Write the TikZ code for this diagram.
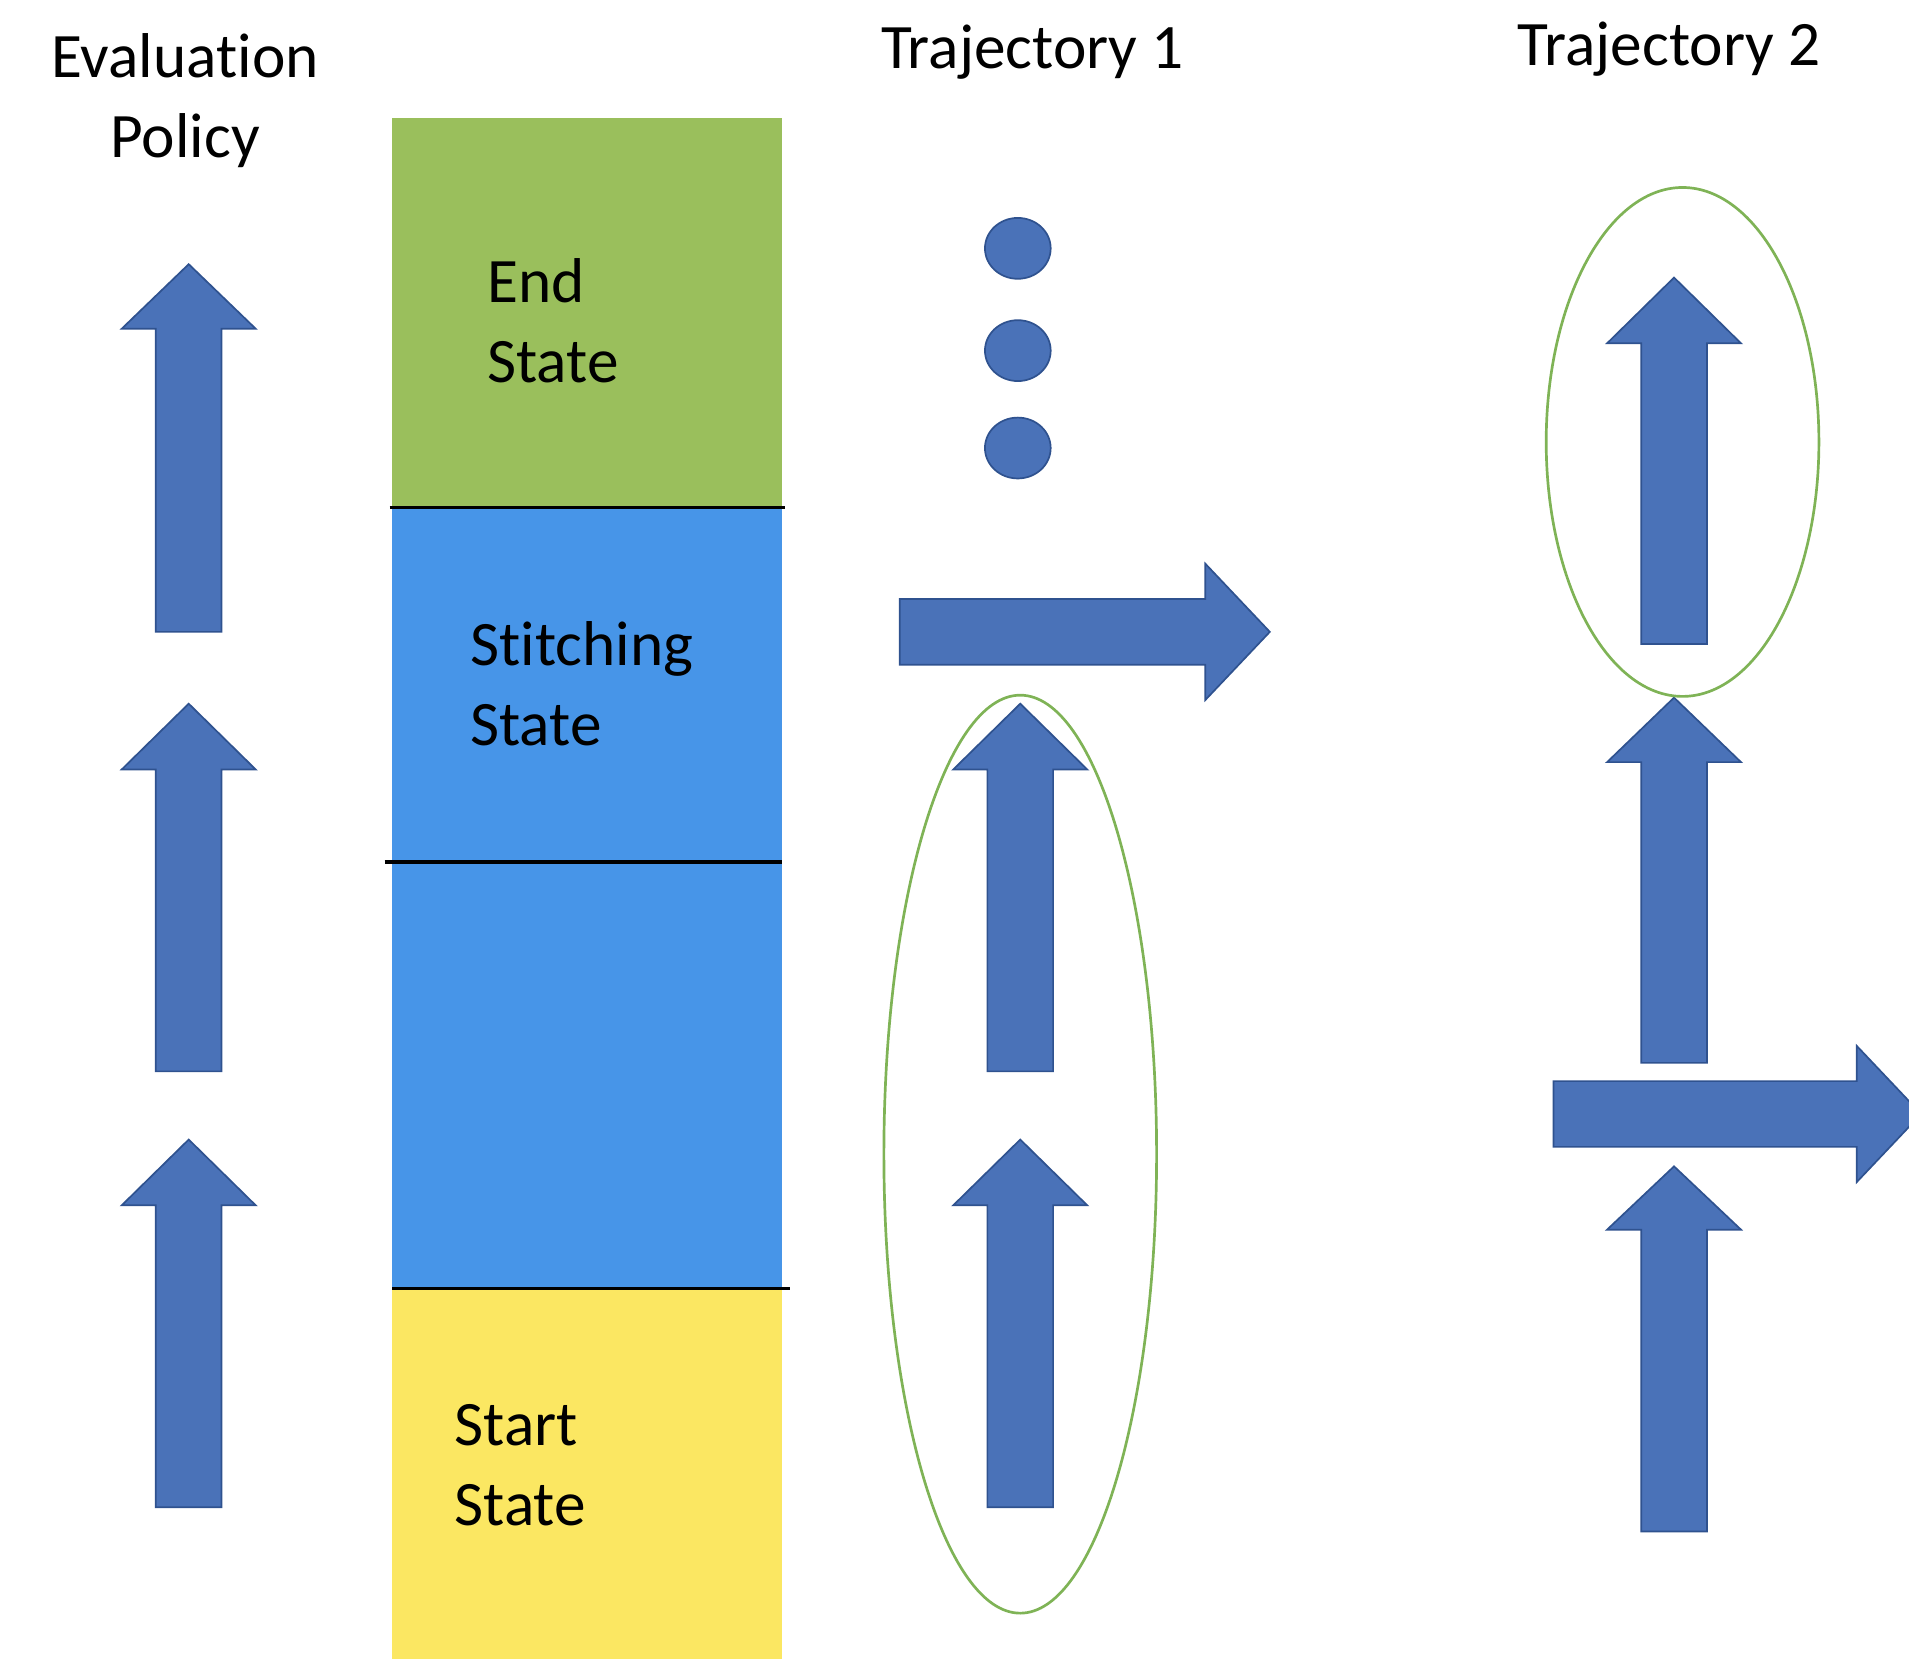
\documentclass[tikz,border=0pt]{standalone}
\usepackage{fontspec}
\setmainfont{Carlito}[Ligatures=NoCommon]
\definecolor{arrfill}{HTML}{4A72B8}
\definecolor{arrline}{HTML}{2F528F}
\definecolor{endgreen}{HTML}{9ABF5C}
\definecolor{stitchblue}{HTML}{4795E8}
\definecolor{startyellow}{HTML}{FBE762}
\definecolor{ringgreen}{HTML}{7FB356}
\tikzset{
  blockarrow/.style={fill=arrfill, draw=arrline, line width=0.7pt, line join=miter},
  ring/.style={draw=ringgreen, line width=1.1pt},
  dotstyle/.style={fill=arrfill, draw=arrline, line width=0.7pt},
  divider/.style={draw=black, line width=1.3pt},
  label/.style={font=\fontsize{26}{33}\selectfont, inner sep=0pt},
}
\newcommand{\uparr}[4]{%
  \draw[blockarrow] ({#1-27},#4) -- ({#1-27},#3) -- ({#1-55},#3) -- (#1,#2) -- ({#1+55},#3) -- ({#1+27},#3) -- ({#1+27},#4) -- cycle;}
\newcommand{\rightarr}[4]{% x0, x1(head base), xtip, ycenter
  \draw[blockarrow] (#1,{#4-27}) -- (#2,{#4-27}) -- (#2,{#4-56}) -- (#3,#4) -- (#2,{#4+56}) -- (#2,{#4+27}) -- (#1,{#4+27}) -- cycle;}
\begin{document}
\begin{tikzpicture}[x=0.5pt,y=-0.5pt]
\useasboundingbox (0,0) rectangle (1568,1363);
\clip (0,0) rectangle (1568,1363);
% column
\fill[endgreen] (322,97) rectangle (642,417);
\fill[stitchblue] (322,417) rectangle (642,1058);
\fill[startyellow] (322,1058) rectangle (642,1363);
\coordinate (l1a) at (320,417); \coordinate (l1b) at (645,417);
\coordinate (l2a) at (316,708); \coordinate (l2b) at (642,708);
\coordinate (l3a) at (322,1058); \coordinate (l3b) at (649,1058);
\draw[divider] (l1a) -- (l1b);
\draw[divider] (l2a) -- (l2b);
\draw[divider] (l3a) -- (l3b);
\node[label, anchor=north west, align=left] (endst) at (400,212) {End\\State};
\node[label, anchor=north west, align=left] (stitch) at (386,510) {Stitching\\State};
\node[label, anchor=north west, align=left] (startst) at (373,1153) {Start\\State};
% titles
\node[label, align=center, anchor=north] (evalp) at (152,27) {Evaluation\\Policy};
\node[label, anchor=north] (t1) at (848,20) {Trajectory 1};
\node[label, anchor=north] (t2) at (1371,18) {Trajectory 2};
% evaluation policy arrows
\uparr{155}{217}{270}{519}
\uparr{155}{578}{632}{880}
\uparr{155}{936}{990}{1238}
% trajectory 1
\draw[dotstyle] (836,204) ellipse [x radius=27, y radius=25];
\draw[dotstyle] (836,288) ellipse [x radius=27, y radius=25];
\draw[dotstyle] (836,368) ellipse [x radius=27, y radius=25];
\rightarr{739}{990}{1043}{519}
\uparr{838}{578}{632}{880}
\uparr{838}{936}{990}{1238}
\draw[ring] (838,948) ellipse [x radius=112, y radius=377];
% trajectory 2
\uparr{1375}{228}{282}{529}
\uparr{1375}{573}{626}{873}
\uparr{1375}{958}{1010}{1258}
\rightarr{1276}{1525}{1578}{915}
\draw[ring] (1382,363) ellipse [x radius=112, y radius=209];
\end{tikzpicture}
\end{document}
